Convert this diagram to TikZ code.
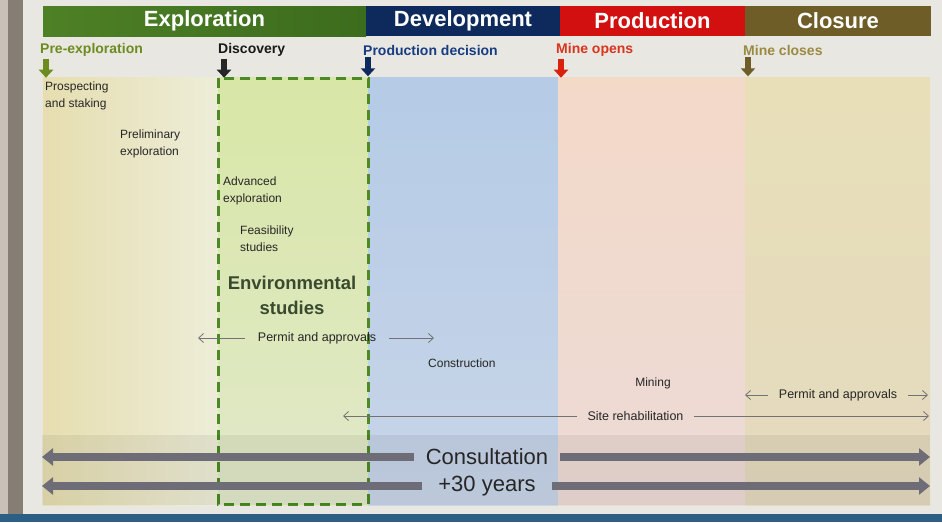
\documentclass[tikz,border=0pt]{standalone}
\usepackage{fontspec}
\setmainfont{Liberation Sans}
\usetikzlibrary{arrows.meta}

\definecolor{pagebg}{HTML}{E9E7E1}
\definecolor{bezel}{HTML}{867D74}
\definecolor{bezellight}{HTML}{C9C1B8}
\definecolor{taskbar}{HTML}{2D5F84}
\definecolor{explgreen}{HTML}{4E8026}
\definecolor{explgreendark}{HTML}{3C6C1D}
\definecolor{devblue}{HTML}{0E2A5C}
\definecolor{prodred}{HTML}{D2100F}
\definecolor{closbrown}{HTML}{6E5D26}
\definecolor{preolive}{HTML}{6C8C1F}
\definecolor{decblue}{HTML}{173C82}
\definecolor{openred}{HTML}{D8341E}
\definecolor{closekhaki}{HTML}{9A8A42}
\definecolor{boxgreen}{HTML}{4B8A24}
\definecolor{envtext}{HTML}{3A4A2E}
\definecolor{consgrey}{HTML}{6E6C76}
% column tints
\definecolor{preL}{HTML}{E6DEB0}
\definecolor{preR}{HTML}{EDEDD8}
\definecolor{advTop}{HTML}{D8E7A6}
\definecolor{advBot}{HTML}{E1E8CA}
\definecolor{devTop}{HTML}{B5CBE6}
\definecolor{devBot}{HTML}{C8D5E8}
\definecolor{prodTop}{HTML}{F3D9C8}
\definecolor{prodBot}{HTML}{ECDAD6}
\definecolor{closTop}{HTML}{E8DFB9}
\definecolor{closBot}{HTML}{E4D9BF}

\begin{document}
\begin{tikzpicture}[x=1pt, y=-1pt,
			phase/.style = {shape=rectangle, minimum height=30pt, inner sep=0pt,
					text=white, font=\bfseries\fontsize{22}{26}\selectfont},
			mile/.style = {anchor=west, inner sep=0pt,
					font=\bfseries\fontsize{14}{16}\selectfont},
			flag/.style = {line width=6pt, -{Triangle[width=14pt,length=8pt]}},
			task/.style = {anchor=north west, align=left, inner sep=0pt,
					text=black!85, font=\fontsize{12}{16.5}\selectfont},
			span/.style = {inner xsep=11pt, inner ysep=0pt,
					text=black!85, font=\fontsize{12.5}{15}\selectfont},
			spanline/.style = {draw=black!55, line width=0.8pt,
					-{Straight Barb[length=5pt,width=9pt]}},
			bigtext/.style = {inner ysep=0pt, text=black!85,
					font=\fontsize{22}{26}\selectfont},
			bigline/.style = {draw=consgrey, line width=8pt,
					-{Triangle[width=17pt,length=11pt]}}]
	\useasboundingbox (0,0) rectangle (942,522);

	% screen and slide background
	\fill[pagebg] (0,0) rectangle (942,522);
	\fill[bezellight] (0,0) rectangle (8,522);
	\fill[bezel] (8,0) rectangle (23,514);
	\fill[taskbar] (0,514) rectangle (942,522);

	% phase columns
	\shade[left color=preL, right color=preR] (43,77) rectangle (218,505);
	\shade[top color=advTop, bottom color=advBot] (218,77) rectangle (368,505);
	\shade[top color=devTop, bottom color=devBot] (368,77) rectangle (558,505);
	\shade[top color=prodTop, bottom color=prodBot] (558,77) rectangle (745,505);
	\shade[top color=closTop, bottom color=closBot] (745,77) rectangle (930,505);

	% phase header
	\node[phase, left color=explgreen, right color=explgreendark, minimum width=323pt] (expl) at (204.5,21) {Exploration};
	\node[phase, fill=devblue, minimum width=194pt] (dev) at (463,21) {Development};
	\node[phase, fill=prodred, minimum width=185pt] (prod) at (652.5,21) {Production};
	\node[phase, fill=closbrown, minimum width=186pt] (clos) at (838,21) {Closure};

	% milestones
	\node[mile, text=preolive] (pre) at (40,50) {Pre-exploration};
	\node[mile, text=black!90] (disc) at (218,50) {Discovery};
	\node[mile, text=decblue] (dec) at (363,50) {Production decision};
	\node[mile, text=openred] (open) at (556,50) {Mine opens};
	\node[mile, text=closekhaki] (close) at (743,50) {Mine closes};
	\draw[flag, preolive] (pre.south west) ++(6,2) -- ++(0,19);
	\draw[flag, black!85] (disc.south west) ++(6,2) -- ++(0,19);
	\draw[flag, devblue] (dec.south west) ++(5,2) -- ++(0,19);
	\draw[flag, prodred!85!orange] (open.south west) ++(5,2) -- ++(0,19);
	\draw[flag, closbrown] (close.south west) ++(5,2) -- ++(0,19);

	% advanced exploration window
	\draw[boxgreen, line width=3pt, dash pattern=on 10pt off 6pt] (218,78) rectangle (368,504);

	% activities
	\node[task] (prosp) at (45,82) {Prospecting\\and staking};
	\node[task] (prelim) at (120,130) {Preliminary\\exploration};
	\node[task] (adv) at (223,177) {Advanced\\exploration};
	\node[task] (feas) at (240,226) {Feasibility\\studies};
	\node[align=center, inner sep=0pt, text=envtext,
		font=\bfseries\fontsize{18.5}{25}\selectfont] (env) at (292,295) {Environmental\\studies};
	\node[task, anchor=west] (constr) at (428,363) {Construction};
	\node[task, anchor=center] (mining) at (653,383) {Mining};

	% permits and rehabilitation
	\coordinate (permitL) at (198,338);
	\coordinate (permitR) at (434,338);
	\node[span, inner xsep=13pt] (permit) at (317,338) {Permit and approvals};
	\draw[spanline] (permit.west) -- (permitL);
	\draw[spanline] (permit.east) -- (permitR);

	\coordinate (closeL) at (745,395);
	\coordinate (closeR) at (928,395);
	\node[span] (closepermit) at (838,395) {Permit and approvals};
	\draw[spanline] (closepermit.west) -- (closeL);
	\draw[spanline] (closepermit.east) -- (closeR);

	\coordinate (rehabL) at (343,416);
	\coordinate (rehabR) at (929,416);
	\node[span, inner xsep=10pt] (rehab) at (635.5,416) {Site rehabilitation};
	\draw[spanline] (rehab.west) -- (rehabL);
	\draw[spanline] (rehab.east) -- (rehabR);

	% consultation band
	\fill[black, opacity=0.06] (42,435) rectangle (930,505);
	\coordinate (consL) at (42,457);
	\coordinate (consR) at (930,457);
	\coordinate (yearsL) at (42,486);
	\coordinate (yearsR) at (930,486);
	\node[bigtext, inner xsep=12pt] (cons) at (487,457) {Consultation};
	\node[bigtext, inner xsep=16pt] (years) at (487,486) {+30 years};
	\draw[bigline] (cons.west) -- (consL);
	\draw[bigline] (cons.east) -- (consR);
	\draw[bigline] (years.west) -- (yearsL);
	\draw[bigline] (years.east) -- (yearsR);
\end{tikzpicture}
\end{document}
